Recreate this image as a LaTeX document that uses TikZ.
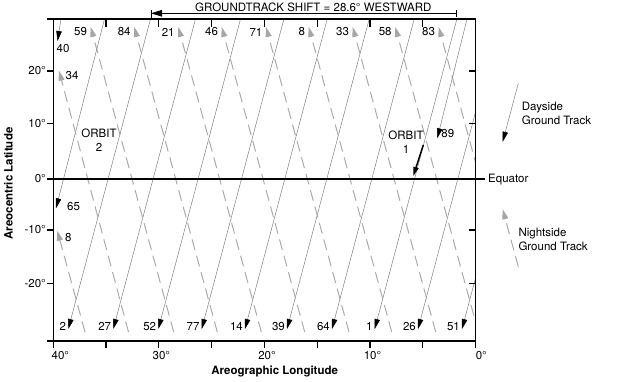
\documentclass[tikz,border=0pt]{standalone}
\usepackage{fontspec}
\setmainfont{TeX Gyre Heros}
\usetikzlibrary{arrows.meta, positioning}
\tikzset{
	every node/.append style={
		font=\fontsize{11.5bp}{14bp}\selectfont,
	},
	frameline/.style={
		line width=1.2bp,
	},
	daytrack/.style={
		draw=black!50,
		line width=0.5bp,
		-{Triangle[length=10bp, width=5.5bp, color=black]},
	},
	nighttrack/.style={
		draw=black!33,
		line width=1bp,
		dash pattern=on 11bp off 6bp,
		-{Triangle[length=10bp, width=6bp, color=black!35]},
	},
	numlabe/.style={
		inner sep=0.5bp,
	},
	ticklabe/.style={
		inner sep=0bp,
	},
	axislabe/.style={
		font=\fontsize{11.5bp}{14bp}\selectfont\bfseries,
	},
}

\begin{document}
\begin{tikzpicture}[x=1bp, y=-1bp]
\useasboundingbox (0,0) rectangle (619,381);

\coordinate (nw) at (53.3,19);
\coordinate (se) at (475.5,341);

\begin{scope}
\clip (nw) rectangle (se);

% dayside passes, ending at the bottom
\foreach \tip/\num [count=\i] in {68.3/2, 113.3/27, 158.3/52, 201.7/77, 245/14, 287/39, 332/64, 374.7/1, 418/26, 462/51}{
	\coordinate (dtop\i) at ({\tip+82.2},19);
	\coordinate (dend\i) at (\tip,329);
	\draw[daytrack] (dtop\i) -- (dend\i);
	\node[numlabe, left=1.5bp of dend\i, yshift=2.5bp] (dl\i) {\num};
}

% nightside passes, ending at the top
\foreach \tip/\num [count=\i] in {90.7/59, 134.3/84, 178.3/21, 221.7/46, 266/71, 308.7/8, 352.7/33, 395.3/58, 438.7/83}{
	\coordinate (ntop\i) at (\tip,27);
	\coordinate (nbot\i) at ({\tip+83},332);
	\draw[nighttrack] (nbot\i) -- (ntop\i);
	\node[numlabe, left=3bp of ntop\i, yshift=-5bp] (nl\i) {\num};
}

% passes leaving through the edges
\coordinate (dtop40) at (61,19);
\coordinate (dend40) at (57.5,41);
\draw[daytrack] (dtop40) -- (dend40);
\node (l40)[numlabe] at (63,48.3) {40};

\coordinate (dtop65) at (104.5,19);
\coordinate (dend65) at (56,208.3);
\draw[daytrack] (dtop65) -- (dend65);
\node (l65)[numlabe] at (73.5,206.7) {65};

\coordinate (dtop89) at (467,19);
\coordinate (dend89) at (437.3,138.3);
\draw[daytrack] (dtop89) -- (dend89);
\node (l89)[numlabe] at (447.8,134) {89};

\coordinate (nbot34) at (128.5,332);
\coordinate (ntop34) at (59,70.7);
\draw[nighttrack] (nbot34) -- (ntop34);
\node (l34)[numlabe] at (72,76) {34};

\coordinate (nbot8) at (85,332);
\coordinate (ntop8) at (57.3,230.7);
\draw[nighttrack] (nbot8) -- (ntop8);
\node (l8)[numlabe] at (68.3,237.3) {8};

% orbit 1
\coordinate (orbA) at (423.3,145);
\coordinate (orbB) at (413.3,176);
\draw[line width=1.5bp, -{Triangle[length=9bp, width=5bp]}] (orbA) -- (orbB);
\end{scope}

\node (orbit2)[align=center] at (99,140.5) {ORBIT\\2};
\node (orbit1)[align=center] at (406,142) {ORBIT\\1};

% frame and ticks
\draw[frameline] (nw) rectangle (se);
\foreach \lon in {0,5,...,40}{
	\draw[frameline] ({475.5-10.555*\lon},341) -- ++(0,6.5);
}
\foreach \lon in {5,10,...,35}{
	\draw[frameline] ({475.5-10.555*\lon},19) -- ++(0,8);
}
\foreach \y in {19,71,123.5,230,283.5,341}{
	\draw[frameline] (46.5,\y) -- (53.3,\y);
}
\foreach \y in {71,123.5,230,283.5}{
	\draw[frameline] (475.5,\y) -- (469,\y);
}

% equator
\coordinate (eqw) at (46.5,179);
\coordinate (eqe) at (485,179);
\draw[frameline] (eqw) -- (eqe);
\node (eq)[ticklabe, anchor=west] at (488,179.5) {Equator};

% axis numbers
\foreach \y/\lat in {71/20, 123.5/10, 179/0, 230/-10, 283.5/-20}{
	\node[ticklabe, anchor=east] at (46,\y) {\lat°};
}
\foreach \x/\lon in {58/40, 159/30, 264.7/20, 370.2/10, 479/0}{
	\node[ticklabe] at (\x,355) {\lon\rlap{°}};
}
\node (xlab)[axislabe] at (274.7,371.7) {Areographic Longitude};
\node (ylab)[axislabe, rotate=90] at (8.3,183.5) {Areocentric Latitude};

% shift per orbit
\coordinate (shiftw) at (151,13.3);
\coordinate (shifte) at (456.7,13.3);
\draw[line width=0.8bp, {Triangle[length=11bp, width=6.5bp]}-] (shiftw) -- (shifte);
\draw[line width=0.8bp] ([yshift=3bp]shiftw) -- ([yshift=-4.5bp]shiftw);
\draw[line width=0.8bp] ([yshift=3bp]shifte) -- ([yshift=-4bp]shifte);
\node (shift)[ticklabe] at (313.3,7.8) {GROUNDTRACK SHIFT = 28.6° WESTWARD};

% legend
\coordinate (dleg1) at (518.3,83.3);
\coordinate (dleg2) at (502.7,141.7);
\draw[daytrack] (dleg1) -- (dleg2);
\node (dlegtxt)[ticklabe, anchor=west, align=left] at (521.7,113.9) {Dayside\\Ground Track};

\coordinate (nleg1) at (518.3,266.7);
\coordinate (nleg2) at (502.7,209.3);
\draw[nighttrack] (nleg1) -- (nleg2);
\node (nlegtxt)[ticklabe, anchor=west, align=left] at (518.3,239.5) {Nightside\\Ground Track};

\end{tikzpicture}
\end{document}
